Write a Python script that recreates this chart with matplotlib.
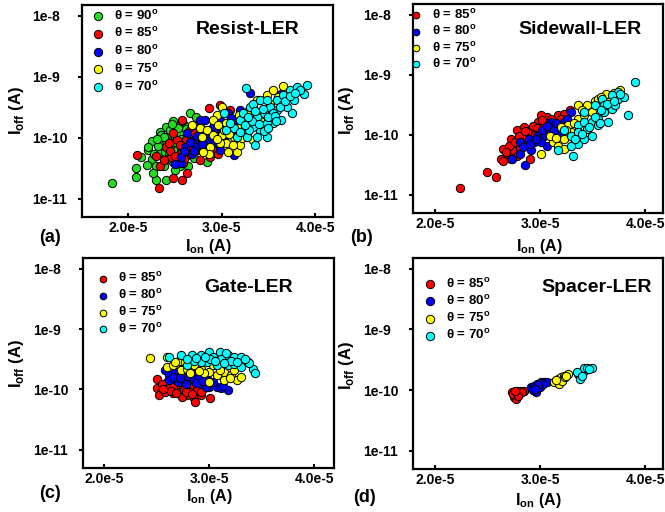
import matplotlib
matplotlib.use("Agg")
import matplotlib.pyplot as plt
from matplotlib.ticker import NullLocator

plt.rcParams["font.family"] = "Liberation Sans"
plt.rcParams["font.weight"] = "bold"
plt.rcParams["mathtext.fontset"] = "custom"
plt.rcParams["mathtext.rm"] = "Liberation Sans:bold"
plt.rcParams["mathtext.bf"] = "Liberation Sans:bold"

# Ion em unidades de 1e-5 A, Ioff em unidades de 1e-10 A

# (a) Resist-LER
a90_ion = [1.83, 2.08, 2.08, 2.14, 2.25, 2.20, 2.25, 2.30, 2.34, 2.36, 2.41, 2.43, 2.48, 2.46, 2.52, 2.55, 2.57,
           2.61, 2.63, 2.66, 2.68, 2.73, 2.70, 2.41, 2.48, 2.30, 2.21, 2.39, 2.45, 2.54, 2.63, 2.77, 2.80, 2.84,
           2.38, 2.27, 2.50, 2.59, 2.64, 2.34, 2.21, 2.50, 2.55, 2.40, 2.60, 2.45, 2.58, 2.35, 2.28, 2.62, 2.70,
           2.32, 2.38, 2.44, 2.50, 2.53, 2.56, 2.60, 2.66, 2.72, 2.42, 2.31, 2.47, 2.58, 2.68, 2.52]
a90_ioff = [0.18, 0.23, 0.32, 0.49, 0.44, 0.36, 0.89, 0.34, 0.59, 0.81, 1.51, 1.04, 1.90, 0.67, 0.46, 0.34, 1.25,
            0.86, 0.59, 2.51, 1.51, 2.21, 0.46, 0.20, 0.40, 0.20, 0.63, 0.59, 1.34, 0.81, 1.11, 1.72, 1.34, 0.40,
            0.34, 0.26, 0.30, 0.46, 0.34, 1.25, 0.71, 1.00, 1.20, 0.90, 1.60, 0.75, 0.65, 1.10, 0.55, 1.40, 1.10,
            0.72, 1.02, 0.55, 0.85, 1.45, 0.95, 0.72, 1.25, 1.50, 0.45, 0.95, 1.65, 1.85, 0.80, 0.62]
a85_ion = [2.09, 2.33, 2.30, 2.34, 2.48, 2.58, 2.63, 2.58, 2.86, 2.98, 2.77, 2.50, 2.63, 2.41, 2.52, 2.68, 2.77,
           2.80, 2.91, 2.96, 2.84, 2.73, 2.64, 2.57, 2.46, 2.38, 2.88, 3.09, 2.70, 2.59, 2.48, 2.55, 2.62, 2.72,
           2.45, 2.65, 2.82, 2.55, 2.60, 2.68, 2.74, 2.79, 2.66, 2.71, 2.50, 2.44, 2.86]
a85_ioff = [0.52, 0.15, 0.50, 0.34, 0.22, 0.20, 0.26, 1.95, 3.10, 3.40, 0.43, 0.38, 0.52, 0.71, 0.92, 0.81, 1.04,
            0.71, 0.63, 0.55, 1.25, 1.51, 1.18, 0.67, 0.49, 0.43, 0.49, 2.84, 1.04, 0.38, 1.18, 0.75, 0.95, 0.85,
            0.60, 0.60, 0.90, 0.55, 0.45, 0.70, 0.62, 0.86, 1.35, 1.20, 0.50, 0.82, 0.75]
a80_ion = [2.57, 2.50, 2.57, 2.61, 2.70, 2.71, 2.77, 2.82, 2.91, 2.98, 3.20, 3.30, 3.63, 3.13, 3.07, 2.98, 3.13,
           2.84, 2.95, 2.77, 2.63, 2.68, 2.86, 3.27, 3.02, 3.16, 3.09, 2.66, 2.74, 2.79, 2.88, 2.93, 3.00, 3.05,
           2.60, 2.70, 3.10]
a80_ioff = [0.38, 0.37, 0.49, 0.71, 0.92, 0.71, 1.95, 1.95, 1.51, 1.95, 2.84, 5.50, 5.30, 0.52, 2.51, 0.63, 1.61,
            0.92, 1.25, 1.18, 1.18, 0.55, 0.63, 2.21, 0.92, 0.81, 1.18, 0.85, 1.05, 0.80, 1.05, 0.85, 1.30, 1.70,
            0.60, 0.60, 2.10]
a75_ion = [2.68, 2.77, 2.84, 2.91, 2.95, 3.00, 3.00, 3.05, 3.07, 2.98, 2.88, 2.86, 2.80, 3.13, 3.18, 3.23, 3.29,
           3.34, 3.38, 3.48, 3.55, 3.66, 3.41, 3.27, 3.34, 3.16, 3.20, 3.11, 3.05, 3.48, 3.30, 3.18, 2.91, 2.79,
           2.95, 3.02, 3.08, 3.12, 3.25, 3.36, 3.43, 3.52, 3.60, 3.22, 2.96, 3.30]
a75_ioff = [1.61, 1.42, 1.34, 1.11, 2.36, 3.20, 1.11, 0.81, 0.59, 0.81, 0.71, 0.55, 0.59, 1.04, 1.42, 2.08, 2.84,
            3.20, 4.10, 5.00, 6.00, 7.00, 1.95, 1.18, 0.92, 0.59, 0.76, 1.51, 1.72, 2.84, 1.72, 2.36, 1.95, 1.04,
            0.95, 1.35, 1.15, 0.75, 1.55, 2.60, 2.40, 3.60, 4.60, 1.00, 1.60, 2.10]
a70_ion = [3.26, 3.59, 3.73, 3.80, 3.91, 3.88, 3.75, 3.36, 3.48, 3.41, 3.20, 3.13, 3.05, 3.16, 3.27, 3.34, 3.45,
           3.52, 3.59, 3.66, 3.70, 3.63, 3.55, 3.48, 3.38, 3.30, 3.23, 3.02, 3.09, 3.66, 3.77, 3.84, 3.34, 3.41,
           3.48, 3.55, 3.70, 3.45, 3.38, 3.29, 3.20, 3.25, 3.32, 3.40, 3.50, 3.57, 3.62, 3.68, 3.73, 3.44, 3.36,
           3.28, 3.50, 3.58, 3.78]
a70_ioff = [6.50, 4.10, 6.00, 6.70, 7.30, 5.20, 2.50, 0.76, 1.04, 1.34, 1.95, 1.42, 1.34, 1.04, 1.04, 1.51, 2.51,
            3.20, 2.84, 3.60, 4.60, 1.95, 1.72, 1.72, 2.21, 3.20, 2.51, 2.51, 1.72, 5.00, 4.10, 6.00, 3.60, 4.10,
            4.10, 2.50, 3.20, 1.28, 1.04, 1.34, 1.25, 1.60, 1.90, 1.70, 2.20, 2.30, 3.20, 4.00, 4.90, 3.00, 2.70,
            2.20, 1.45, 1.90, 5.40]

# (b) Sidewall-LER
b85_ion = [2.24, 2.49, 2.58, 2.63, 2.65, 2.72, 2.75, 2.78, 2.82, 2.90, 2.88, 2.91, 2.98, 3.07, 3.17, 3.23, 3.28,
           2.78, 2.85, 3.04, 2.69, 2.72, 2.95, 3.12, 3.20, 2.85, 3.01, 2.73, 2.81, 2.65, 2.70, 2.76, 2.80, 2.86,
           2.93, 2.97, 3.02, 3.10, 2.68, 2.95]
b85_ioff = [0.129, 0.239, 0.197, 0.39, 0.58, 0.86, 0.66, 0.45, 0.86, 0.39, 0.66, 1.11, 1.63, 1.97, 2.10, 2.24, 2.54,
            1.18, 1.34, 1.43, 0.45, 0.40, 1.26, 1.52, 1.85, 0.97, 2.10, 0.55, 0.62, 0.37, 0.65, 0.75, 0.95, 1.15,
            1.40, 1.30, 1.75, 1.80, 0.52, 1.00]
b80_ion = [2.86, 2.73, 2.81, 2.91, 2.94, 2.97, 3.04, 3.10, 3.17, 3.23, 3.29, 3.07, 3.01, 2.89, 2.81, 3.20, 3.26, 3.10,
           2.90, 2.96, 3.02, 3.07, 3.13, 2.84, 3.15]
b80_ioff = [0.31, 0.40, 0.48, 0.55, 0.75, 0.97, 0.97, 1.11, 1.34, 1.63, 2.39, 0.66, 0.75, 0.86, 0.75, 1.11, 1.85, 1.63,
            0.70, 0.85, 1.20, 1.40, 1.20, 0.62, 1.60]
b75_ion = [3.01, 3.12, 3.17, 3.23, 3.29, 3.27, 3.36, 3.36, 3.45, 3.52, 3.63, 3.76, 3.65, 3.42, 3.23, 3.33, 3.09,
           3.20, 3.49, 3.55, 3.15, 3.25, 3.32, 3.40, 3.58, 3.70]
b75_ioff = [0.48, 0.75, 0.66, 0.86, 1.11, 1.43, 1.85, 3.08, 3.08, 3.70, 4.80, 5.60, 3.50, 2.10, 0.58, 0.75, 0.97,
            1.34, 2.39, 3.98, 0.90, 1.20, 1.60, 2.60, 4.20, 5.00]
b70_ion = [3.90, 3.84, 3.31, 3.17, 3.36, 3.42, 3.49, 3.29, 3.23, 3.36, 3.42, 3.49, 3.55, 3.61, 3.68, 3.74, 3.80,
           3.74, 3.68, 3.59, 3.52, 3.42, 3.55, 3.65, 3.61, 3.45, 3.36, 3.29, 3.71, 3.33, 3.40, 3.47, 3.52, 3.58,
           3.64, 3.70, 3.76, 3.57]
b70_ioff = [7.5, 2.1, 0.45, 0.55, 0.71, 0.86, 0.97, 0.97, 1.18, 1.43, 1.63, 1.63, 1.85, 2.39, 2.70, 4.0, 4.2,
            5.1, 4.6, 4.0, 3.08, 2.39, 1.43, 1.63, 3.08, 1.26, 1.11, 0.66, 3.08, 0.85, 1.05, 1.35, 2.0, 2.6,
            3.3, 3.6, 4.8, 1.6]

# (c) Gate-LER
c85_ion = [2.50, 2.50, 2.54, 2.57, 2.60, 2.66, 2.72, 2.79, 2.86, 2.87, 2.92, 3.01, 2.63, 2.70, 2.76, 2.81, 2.89,
           2.52, 2.58, 2.74, 2.82, 2.95, 2.92, 2.55, 2.66, 2.64, 2.69, 2.78, 2.84, 2.56]
c85_ioff = [1.51, 1.04, 0.92, 1.11, 1.34, 0.86, 1.04, 0.81, 0.71, 0.63, 0.81, 0.73, 1.18, 1.25, 0.98, 1.11, 0.98,
            0.81, 0.92, 0.76, 0.92, 1.04, 0.92, 1.25, 1.11, 0.95, 0.88, 0.92, 0.85, 1.00]
c80_ion = [2.58, 2.62, 2.68, 2.74, 2.79, 2.86, 2.92, 3.00, 3.08, 3.18, 2.70, 2.78, 2.90, 2.98, 3.11, 2.62, 2.84,
           2.97, 3.04, 2.66, 2.72, 2.88, 2.94, 3.13]
c80_ioff = [2.07, 1.72, 1.95, 2.21, 1.61, 1.42, 1.25, 1.11, 1.11, 0.97, 1.34, 1.25, 1.61, 1.51, 1.04, 1.42, 1.95,
            1.11, 1.34, 1.60, 1.55, 1.30, 1.40, 1.15]
c75_ion = [2.44, 2.60, 2.60, 2.66, 2.71, 2.73, 2.79, 2.86, 2.92, 3.00, 3.00, 3.08, 3.14, 3.21, 3.27, 3.30, 3.04,
           2.95, 3.14, 3.24, 2.77, 2.82, 2.90, 3.10, 3.20, 2.68]
c75_ioff = [3.3, 3.4, 2.35, 2.5, 3.0, 2.07, 2.21, 2.5, 2.21, 1.95, 1.34, 1.72, 1.95, 1.72, 1.42, 1.61, 2.5,
            1.89, 1.42, 2.07, 2.85, 1.90, 2.00, 2.10, 1.55, 2.80]
c70_ion = [2.62, 2.73, 2.79, 2.84, 2.92, 3.00, 3.10, 3.18, 3.24, 3.30, 3.37, 3.42, 3.44, 2.98, 3.08, 3.18, 3.24,
           3.30, 3.11, 2.92, 2.86, 3.04, 3.21, 3.38, 3.01, 3.27, 2.79, 2.88, 2.96, 3.06, 3.14, 3.34, 3.16]
c70_ioff = [3.4, 3.65, 2.5, 3.65, 3.65, 4.1, 4.1, 3.65, 3.4, 3.4, 2.85, 2.21, 1.9, 2.85, 2.5, 2.5, 2.65,
            2.35, 3.2, 2.85, 3.0, 3.4, 3.0, 2.7, 3.2, 2.85, 3.2, 3.3, 3.4, 3.0, 2.75, 3.2, 4.0]

# (d) Spacer-LER
d85_ion = [2.73, 2.75, 2.77, 2.78, 2.80, 2.81, 2.85, 2.77, 2.74, 2.83, 2.79, 2.76]
d85_ioff = [0.92, 0.78, 0.86, 0.97, 0.86, 0.97, 0.97, 0.71, 0.86, 0.92, 0.80, 0.95]
d80_ion = [2.91, 2.94, 2.97, 3.01, 3.04, 3.07, 2.96, 2.93, 3.00, 3.03, 2.98, 2.95]
d80_ioff = [1.11, 1.18, 1.25, 1.34, 1.34, 1.34, 0.92, 1.00, 1.11, 1.25, 1.20, 1.05]
d75_ion = [3.13, 3.17, 3.20, 3.23, 3.27, 3.18, 3.21, 3.24, 3.15, 3.25]
d75_ioff = [1.34, 1.51, 1.61, 1.72, 1.82, 1.25, 1.42, 1.61, 1.45, 1.70]
d70_ion = [3.36, 3.38, 3.40, 3.42, 3.46, 3.49, 3.42, 3.35, 3.40, 3.45, 3.47]
d70_ioff = [1.82, 1.51, 1.89, 2.07, 2.21, 2.30, 2.35, 1.95, 1.72, 2.30, 2.25]

angulos = [90, 85, 80, 75, 70]
cores = {90: "#22dd22", 85: "#ff0000", 80: "#0000ff", 75: "#ffff00", 70: "#00ffff"}

paineis = [
    ("Resist-LER", "(a)", {90: (a90_ion, a90_ioff), 85: (a85_ion, a85_ioff), 80: (a80_ion, a80_ioff),
                           75: (a75_ion, a75_ioff), 70: (a70_ion, a70_ioff)}),
    ("Sidewall-LER", "(b)", {85: (b85_ion, b85_ioff), 80: (b80_ion, b80_ioff),
                             75: (b75_ion, b75_ioff), 70: (b70_ion, b70_ioff)}),
    ("Gate-LER", "(c)", {85: (c85_ion, c85_ioff), 80: (c80_ion, c80_ioff),
                         75: (c75_ion, c75_ioff), 70: (c70_ion, c70_ioff)}),
    ("Spacer-LER", "(d)", {85: (d85_ion, d85_ioff), 80: (d80_ion, d80_ioff),
                           75: (d75_ion, d75_ioff), 70: (d70_ion, d70_ioff)}),
]

# posicoes em pixels (figura 665x512)
W, H = 665, 512
caixas = [(82, 5, 333, 217), (413, 4, 663, 213), (83, 258, 334, 468), (413, 258, 663, 469)]
xlims = [(1.507, 4.19), (1.79, 4.17), (1.80, 4.19), (1.79, 4.17)]
rotulo_letra = [(50, 238), (362, 238), (50, 493), (364, 498)]
rotulo_y = [(16, 110), (347, 110), (16, 363), (347, 365)]
rotulo_x = [(208, 247), (539, 247), (209, 497), (538, 500)]
titulo_pos = [(248, 30), (580, 30), (249, 288), (597, 288)]
leg_anchor = [(0.0, 1.02), (-0.05, 1.02), (0.015, 0.975), (0.005, 0.95)]
leg_escala = [1.0, 0.8, 0.8, 1.0]
leg_espaco = [0.28, 0.18, 0.22, 0.25]
pad_y = [33, 33, 33, 33]  # rotulos do eixo y alinhados a esquerda

fig = plt.figure(figsize=(W / 100, H / 100), dpi=100)

for i, (titulo, letra, series) in enumerate(paineis):
    x0, y0, x1, y1 = caixas[i]
    ax = fig.add_axes([x0 / W, 1 - y1 / H, (x1 - x0) / W, (y1 - y0) / H])

    for ang in angulos:
        if ang not in series:
            continue
        ion, ioff = series[ang]
        ax.scatter([v * 1e-5 for v in ion], [v * 1e-10 for v in ioff], s=36,
                   color=cores[ang], edgecolors="black", linewidths=0.7,
                   label=r"θ = %d$^{\mathbf{o}}$" % ang, zorder=3)

    ax.set_yscale("log")
    ax.set_ylim(5e-12, 1.5e-8)
    ax.set_xlim(xlims[i][0] * 1e-5, xlims[i][1] * 1e-5)
    ax.set_yticks([1e-11, 1e-10, 1e-9, 1e-8])
    ax.set_yticklabels(["1e-11", "1e-10", "1e-9", "1e-8"], ha="left")
    ax.yaxis.set_minor_locator(NullLocator())
    ax.set_xticks([2e-5, 3e-5, 4e-5])
    ax.set_xticklabels(["2.0e-5", "3.0e-5", "4.0e-5"])
    ax.tick_params(axis="y", direction="out", length=3, width=1.5, labelsize=10, pad=pad_y[i])
    ax.tick_params(axis="x", direction="in", length=3, width=1.5, labelsize=10, pad=3)
    for sp in ax.spines.values():
        sp.set_linewidth(1.6)

    ax.legend(loc="upper left", bbox_to_anchor=leg_anchor[i], frameon=False, fontsize=9.5,
              handletextpad=0.6, labelspacing=leg_espaco[i], borderaxespad=0.2, scatterpoints=1,
              markerscale=leg_escala[i], handlelength=1.2)

    fig.text(titulo_pos[i][0] / W, 1 - titulo_pos[i][1] / H, titulo, fontsize=14,
             ha="center", va="center")
    fig.text(rotulo_letra[i][0] / W, 1 - rotulo_letra[i][1] / H, letra, fontsize=13,
             ha="center", va="center")
    fig.text(rotulo_y[i][0] / W, 1 - rotulo_y[i][1] / H, r"I$_{\mathbf{off}}$ (A)", fontsize=12,
             rotation=90, ha="center", va="center")
    fig.text(rotulo_x[i][0] / W, 1 - rotulo_x[i][1] / H, r"I$_{\mathbf{on}}$ (A)", fontsize=11.5,
             ha="center", va="center")

fig.savefig("out.png", dpi=100)
